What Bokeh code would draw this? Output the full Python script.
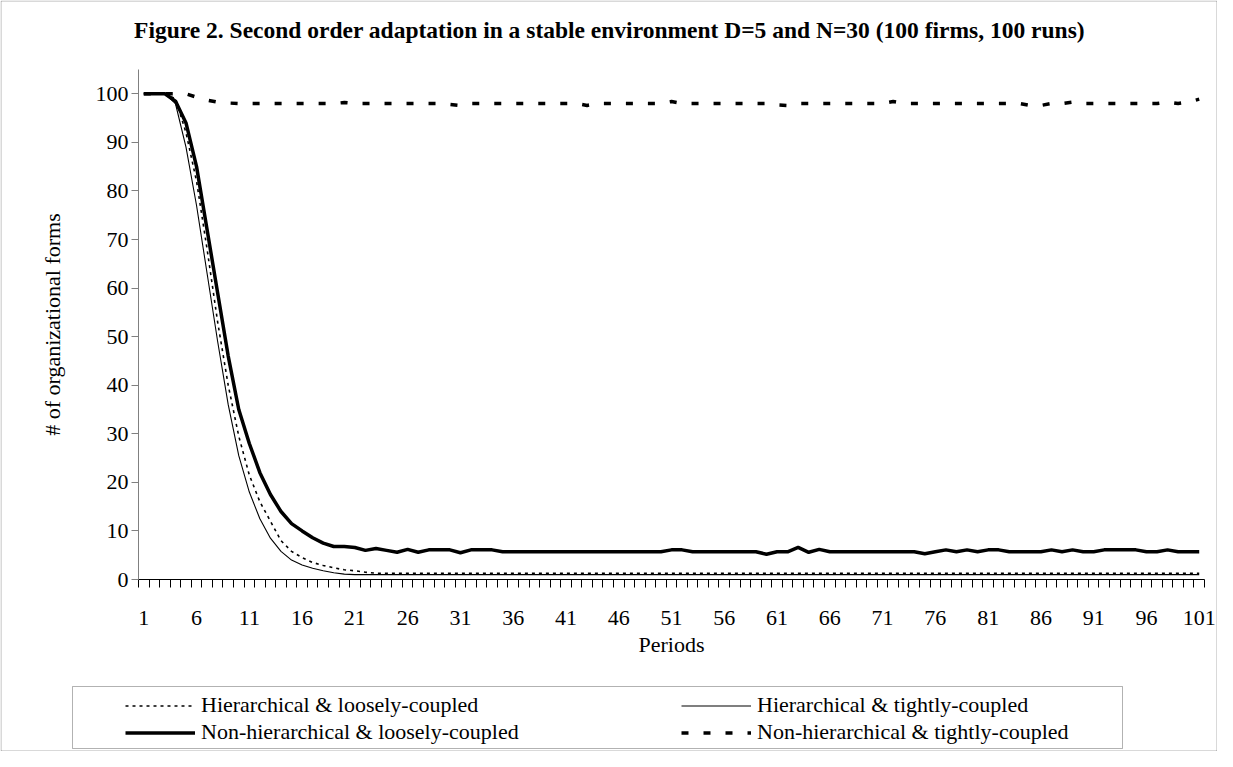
from bokeh.plotting import figure
from bokeh.models import FixedTicker, Label, Legend, LegendItem, Range1d, BoxAnnotation
from bokeh.embed import file_html
from bokeh.resources import INLINE
import math

# ---------------- data ----------------
periods = list(range(1, 102))

hier_loose = [100, 100, 100, 99, 92, 82, 68, 53, 40, 29.5,
              21.5, 16, 12, 8, 5.8, 4.5, 3.5, 2.9, 2.4, 2.0,
              1.8, 1.5] + [1.3] * 79

hier_tight = [100, 100, 100, 98, 89, 77, 63, 49, 36, 25.5,
              18, 12.5, 8.5, 5.8, 4, 3, 2.3, 1.8, 1.4, 1.1] + [1.0] * 81

non_hier_loose = [100, 100, 100, 98.5, 94, 85, 72, 59, 46, 35,
                  28, 22, 17.5, 14, 11.5, 10, 8.6, 7.5, 6.8, 6.8,
                  6.6, 6.0, 6.4, 6.0, 5.6, 6.2, 5.6, 6.1, 6.1, 6.1,
                  5.5, 6.1, 6.1, 6.1, 5.7, 5.7, 5.7, 5.7, 5.7, 5.7,
                  5.7, 5.7, 5.7, 5.7, 5.7, 5.7, 5.7, 5.7, 5.7, 5.7,
                  6.1, 6.1, 5.7, 5.7, 5.7, 5.7, 5.7, 5.7, 5.7, 5.2,
                  5.7, 5.7, 6.6, 5.6, 6.2, 5.7, 5.7, 5.7, 5.7, 5.7,
                  5.7, 5.7, 5.7, 5.7, 5.3, 5.7, 6.1, 5.7, 6.1, 5.7,
                  6.1, 6.1, 5.7, 5.7, 5.7, 5.7, 6.1, 5.7, 6.1, 5.7,
                  5.7, 6.1, 6.1, 6.1, 6.1, 5.7, 5.7, 6.1, 5.7, 5.7,
                  5.7]

non_hier_tight = [100, 100, 100, 100, 100, 99.3, 98.7, 98.3, 98.1, 98,
                  98, 98, 98, 98, 98, 98, 98, 98, 98, 98.2,
                  98, 98, 98, 98, 98, 98, 98, 98, 98, 97.8,
                  97.6, 98, 98, 98, 98, 98, 98, 98, 98, 98,
                  98, 98, 97.6, 98, 98, 98, 98, 98, 98, 98,
                  98.4, 98, 98, 98, 98, 98, 98, 98, 98, 98,
                  97.7, 97.6, 98, 98, 98, 98, 98, 98, 98, 98,
                  98, 98.4, 98, 98, 98, 98, 98, 98, 98, 98,
                  98, 98, 98, 98, 97.6, 97.6, 98, 98, 98.3, 98,
                  98, 98, 98, 98, 98, 98, 98, 98.3, 98, 98.3,
                  98.9]

x_tick_values = list(range(1, 102, 5))
y_tick_values = list(range(0, 101, 10))

series_names = ["Hierarchical & loosely-coupled",
                "Hierarchical & tightly-coupled",
                "Non-hierarchical & loosely-coupled",
                "Non-hierarchical & tightly-coupled"]

title_text = "Figure 2.  Second order adaptation in a stable environment D=5 and N=30 (100 firms, 100 runs)"
x_title = "Periods"
y_title = "# of organizational forms"

# ---------------- geometry (page pixels) ----------------
FONT = "Liberation Serif"
W, H = 1217, 751
M = 8                                   # page margin
PLOT_L, PLOT_R = 146, 1212              # plot area (x categories 0.5 .. 101.5)
PLOT_B, PLOT_T = 587, 77                # y = 0 .. 105
X_LO, X_HI = 0.5, 101.5
Y_LO, Y_HI = 0, 105

kx = (PLOT_R - PLOT_L) / (X_HI - X_LO)
ky = (PLOT_B - PLOT_T) / (Y_HI - Y_LO)
x_start = X_LO - (PLOT_L - M) / kx
x_end = x_start + W / kx
y_end = Y_HI + (PLOT_T - M) / ky
y_start = y_end - H / ky


def sx(page_x):
    return page_x - M


def sy(page_y):
    return (H + M) - page_y


p = figure(width=W, height=H, x_range=Range1d(x_start, x_end), y_range=Range1d(y_start, y_end),
           output_backend="svg", toolbar_location=None, min_border=0)
p.outline_line_color = None
p.grid.visible = False
p.background_fill_color = "white"
p.border_fill_color = "white"

xa = p.xaxis[0]
xa.fixed_location = 0
xa.bounds = (X_LO - 0.01, X_HI + 0.01)
xa.ticker = FixedTicker(ticks=x_tick_values, minor_ticks=[i + 0.5 for i in range(0, 102)])
xa.major_tick_out = 0
xa.major_tick_in = 0
xa.minor_tick_out = 8
xa.minor_tick_in = 0
xa.minor_tick_line_color = "black"
xa.axis_line_color = "black"
xa.major_label_text_font = FONT
xa.major_label_text_font_size = "22px"
xa.major_label_text_color = "black"
xa.major_label_standoff = 23

ya = p.yaxis[0]
ya.fixed_location = X_LO
ya.bounds = (Y_LO, Y_HI)
ya.ticker = FixedTicker(ticks=y_tick_values)
ya.major_tick_out = 7
ya.major_tick_in = 0
ya.minor_tick_line_color = None
ya.axis_line_color = "#808080"
ya.major_tick_line_color = "#808080"
ya.major_label_text_font = FONT
ya.major_label_text_font_size = "22px"
ya.major_label_text_color = "black"
ya.major_label_standoff = 3

styles = [dict(line_color="black", line_width=1.6, line_dash="3 4"),
          dict(line_color="black", line_width=1.1),
          dict(line_color="black", line_width=3.5),
          dict(line_color="black", line_width=3.5, line_dash="7 15")]
rends = [p.line(periods, ys, **st)
         for ys, st in zip([hier_loose, hier_tight, non_hier_loose, non_hier_tight], styles)]

# ---------------- texts ----------------
p.add_layout(Label(x=sx(620), y=sy(37), x_units="screen", y_units="screen", text=title_text,
                   text_align="center", text_baseline="middle", text_font=FONT,
                   text_font_size="23.5px", text_font_style="bold", text_color="black"))
p.add_layout(Label(x=sx(60), y=sy(332), x_units="screen", y_units="screen", text=y_title,
                   angle=math.pi / 2, text_align="center", text_baseline="middle",
                   text_font=FONT, text_font_size="22px", text_color="black"))
p.add_layout(Label(x=sx(679), y=sy(652), x_units="screen", y_units="screen", text=x_title,
                   text_align="center", text_baseline="middle",
                   text_font=FONT, text_font_size="22px", text_color="black"))

# ---------------- legend ----------------
p.add_layout(BoxAnnotation(left=sx(80), right=sx(1130), top=sy(694), bottom=sy(756),
                           left_units="screen", right_units="screen",
                           top_units="screen", bottom_units="screen",
                           fill_alpha=0, line_color="black", line_width=1))


def make_legend(items, loc):
    return Legend(items=items, location=loc, orientation="vertical",
                  glyph_width=70, glyph_height=27, label_height=27,
                  spacing=0, padding=0, margin=0, label_standoff=6,
                  border_line_color=None, background_fill_alpha=0,
                  label_text_font=FONT, label_text_font_size="22px",
                  label_text_color="black")


p.add_layout(make_legend([LegendItem(label=series_names[0], renderers=[rends[0]]),
                          LegendItem(label=series_names[2], renderers=[rends[2]])],
                         (sx(133), sy(753.5))))
p.add_layout(make_legend([LegendItem(label=series_names[1], renderers=[rends[1]]),
                          LegendItem(label=series_names[3], renderers=[rends[3]])],
                         (sx(689), sy(753.5))))

# chart border
p.add_layout(BoxAnnotation(left=0.5, right=W - 0.5, top=H - 0.5, bottom=0.5,
                           left_units="screen", right_units="screen",
                           top_units="screen", bottom_units="screen",
                           fill_alpha=0, line_color="black", line_width=1))

open("out.html", "w").write(file_html(p, INLINE))
